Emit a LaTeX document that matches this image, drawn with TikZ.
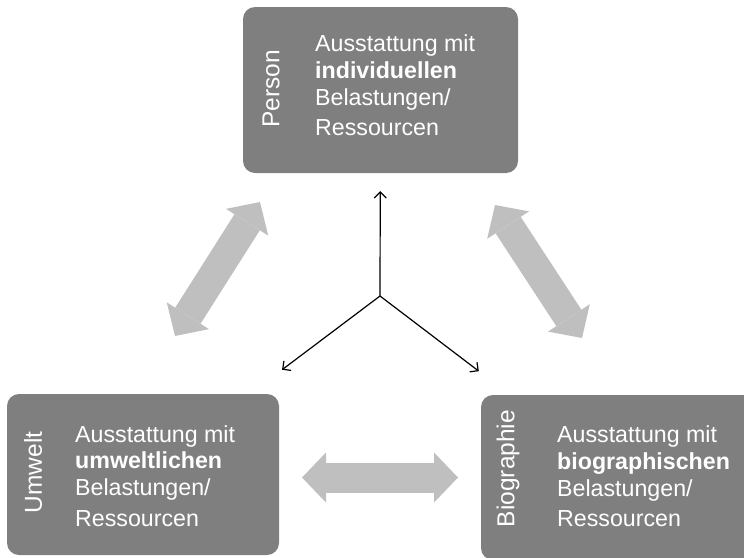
\documentclass[tikz,border=0pt]{standalone}
\usepackage{fontspec}
\setmainfont{Liberation Sans}
\usetikzlibrary{arrows.meta, positioning, calc}
\definecolor{panelgray}{RGB}{127, 127, 127}
\definecolor{linkgray}{RGB}{191, 191, 191}
\tikzset{
  >=Stealth,
  panel/.style={fill=panelgray, rounded corners=12pt, inner sep=0pt, minimum width=275pt, minimum height=166pt},
  sidelabel/.style={text=white, rotate=90, inner sep=0pt, font=\fontsize{24.5}{28}\selectfont},
  paneltext/.style={text=white, align=left, anchor=west, inner sep=0pt, font=\fontsize{23.2}{26.7}\selectfont},
  linkarrow/.style={line width=30pt, linkgray, {Triangle[length=24pt, width=50pt, line width=0pt]}-{Triangle[length=24pt, width=50pt, line width=0pt]}},
  hubarrow/.style={-{Straight Barb[length=6pt, width=12pt]}, line width=1.2pt, black}
}

\begin{document}
\begin{tikzpicture}[x=1pt, y=-1pt]
    \useasboundingbox (0,0) rectangle (744,557);

    \node (person) [panel] at (380.5,90) {};
    \node (umwelt) [panel, minimum width=272pt, minimum height=161pt] at (143,474.5) {};
    \node (biog) [panel, minimum height=165pt] at (618.5,477.5) {};

    \node (personlbl) [sidelabel] at (271,89) {Person};
    \node (umweltlbl) [sidelabel] at (33,472.5) {Umwelt};
    \node (bioglbl) [sidelabel] at (508,468.5) {Biographie};

    \node (persontxt) [paneltext] at (315,85.5) {Ausstattung mit\\\textbf{individuellen}\\Belastungen/\\[4pt]Ressourcen};
    \node (umwelttxt) [paneltext] at (75,476) {Ausstattung mit\\\textbf{umweltlichen}\\Belastungen/\\[4pt]Ressourcen};
    \node (biogtxt) [paneltext] at (557,476.5) {Ausstattung mit\\\textbf{biographischen}\\Belastungen/\\[4pt]Ressourcen};

    \coordinate (hub) at (380,296);
    \draw[hubarrow, shorten >=18pt] (hub) -- (person);
    \draw[hubarrow, shorten >=40pt] (hub) -- (umwelt);
    \draw[hubarrow, shorten >=39pt] (hub) -- (biog);

    \coordinate (pu1) at (175,336);
    \coordinate (pu2) at (260,202);
    \coordinate (pb1) at (495,205);
    \coordinate (pb2) at (582,338);
    \coordinate (ub1) at (302,477.5);
    \coordinate (ub2) at (458,477.5);
    \draw[linkarrow] (pu1) -- (pu2);
    \draw[linkarrow] (pb1) -- (pb2);
    \draw[linkarrow] (ub1) -- (ub2);
\end{tikzpicture}
\end{document}
